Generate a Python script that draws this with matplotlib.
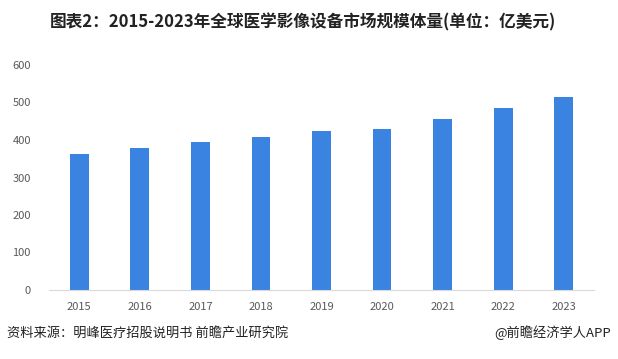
import matplotlib.pyplot as plt

plt.rcParams['font.family'] = ['Noto Sans CJK SC', 'DejaVu Sans']

years = ['2015', '2016', '2017', '2018', '2019', '2020', '2021', '2022', '2023']
values = [363, 379, 395, 408, 424, 429, 456, 485, 514]

fig = plt.figure(figsize=(6.18, 3.59), dpi=100)
ax = fig.add_axes([49 / 618, 69 / 359, 545 / 618, 225 / 359])

ax.bar(range(len(years)), values, width=0.31, color='#3A83E0')
ax.set_xlim(-0.5, len(years) - 0.5)
ax.set_ylim(0, 600)
ax.set_yticks(range(0, 601, 100))
ax.set_xticks(range(len(years)))
ax.set_xticklabels(years)

for s in ['top', 'right', 'left']:
    ax.spines[s].set_visible(False)
ax.spines['bottom'].set_color('#d9d9d9')
ax.tick_params(axis='both', length=0, labelsize=8, colors='#595959', pad=9)
ax.tick_params(axis='y', pad=13)

fig.text(303 / 618, 1 - 22 / 359, '图表2：2015-2023年全球医学影像设备市场规模体量(单位：亿美元)',
         ha='center', va='center', fontsize=12, fontweight='bold', color='#222222')
fig.text(7 / 618, 1 - 333 / 359, '资料来源：明峰医疗招股说明书 前瞻产业研究院',
         ha='left', va='center', fontsize=9.5, color='#222222')
fig.text(611 / 618, 1 - 333 / 359, '@前瞻经济学人APP',
         ha='right', va='center', fontsize=9.5, color='#222222')

fig.savefig('out.png', dpi=100)
